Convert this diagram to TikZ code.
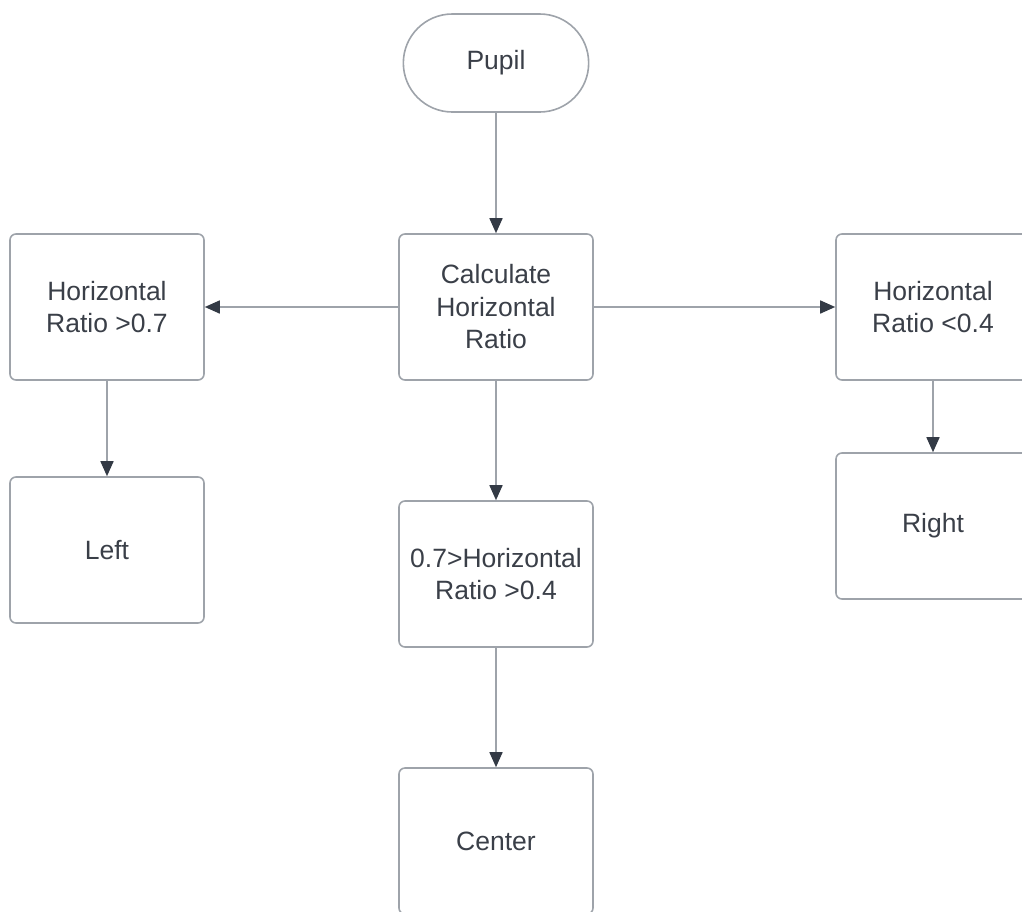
\documentclass[tikz,border=0pt]{standalone}
\usepackage{fontspec}
\setmainfont{Liberation Sans}
\usetikzlibrary{arrows.meta,shapes.misc}
\definecolor{linegray}{HTML}{9EA3AA}
\definecolor{textgray}{HTML}{3A3F48}
\definecolor{headgray}{HTML}{333A45}
\tikzset{
  box/.style={draw=linegray, line width=1.6pt, rounded corners=6pt, minimum width=194pt, minimum height=146pt, align=center, text=textgray, font=\fontsize{26.5}{32.5}\selectfont, inner sep=0pt},
  term/.style={draw=linegray, line width=1.6pt, rounded rectangle, minimum width=192pt, minimum height=98pt, text=textgray, font=\fontsize{26.5}{32.5}\selectfont},
  conn/.style={draw=linegray, line width=1.6pt, -{Triangle[length=15pt,width=13pt,fill=headgray,color=headgray]}}
}
\begin{document}
\begin{tikzpicture}[x=1pt,y=-1pt]
\useasboundingbox (0,0) rectangle (1022,911);
\clip (0,0) rectangle (1022,911);
\node[term] (pupil) at (496,63) {Pupil};
\node[box] (calc) at (496,307) {Calculate\\Horizontal\\Ratio};
\node[box] (lt) at (107,307) {Horizontal\\Ratio >0.7};
\node[box] (rt) at (933,307) {Horizontal\\Ratio <0.4};
\node[box] (left) at (107,550) {Left};
\node[box] (mid) at (496,574) {0.7>Horizontal\\Ratio >0.4};
\node[box] (center) at (496,841) {Center};
\node[box] (right) at (933,526) {Right};
\draw[conn] (pupil) -- (calc);
\draw[conn] (calc) -- (lt);
\draw[conn] (calc) -- (rt);
\draw[conn] (calc) -- (mid);
\draw[conn] (lt) -- (left);
\draw[conn] (mid) -- (center);
\draw[conn] (rt) -- (right);
\end{tikzpicture}
\end{document}
